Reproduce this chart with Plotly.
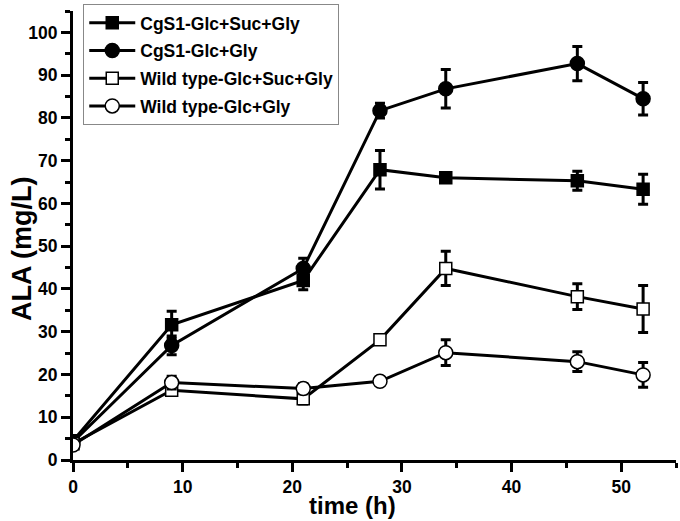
import plotly.graph_objects as go

time_h = [0, 9, 21, 28, 34, 46, 52]

names = ["CgS1-Glc+Suc+Gly", "CgS1-Glc+Gly", "Wild type-Glc+Suc+Gly", "Wild type-Glc+Gly"]

cgs1_suc = [4.5, 31.6, 42.0, 67.9, 66.0, 65.3, 63.3]
cgs1_suc_err = [0.8, 3.2, 2.2, 4.5, 1.0, 2.2, 3.5]

cgs1_gly = [4.2, 26.8, 44.8, 81.7, 86.8, 92.7, 84.5]
cgs1_gly_err = [0.8, 2.2, 2.4, 1.7, 4.5, 4.0, 3.8]

wt_suc = [3.8, 16.3, 14.3, 28.1, 44.8, 38.2, 35.3]
wt_suc_err = [0.6, 1.0, 1.2, 1.0, 4.0, 3.0, 5.5]

wt_gly = [3.5, 18.1, 16.7, 18.4, 25.1, 23.0, 19.9]
wt_gly_err = [0.6, 1.5, 1.2, 1.0, 3.0, 2.3, 2.9]

x_title = "time (h)"
y_title = "ALA (mg/L)"

series = [cgs1_suc, cgs1_gly, wt_suc, wt_gly]
errors = [cgs1_suc_err, cgs1_gly_err, wt_suc_err, wt_gly_err]
symbols = ["square", "circle", "square", "circle"]
fills = ["black", "black", "white", "white"]
sizes = [12, 14, 12, 14]

fig = go.Figure()
for nm, ys, er, sym, fc, sz in zip(names, series, errors, symbols, fills, sizes):
    fig.add_trace(go.Scatter(
        x=time_h, y=ys, name=nm, mode="lines+markers", legendgroup=nm,
        line=dict(color="black", width=3),
        marker=dict(symbol=sym, size=sz, color=fc,
                    line=dict(color="black", width=1.5)),
        error_y=dict(type="data", array=er, visible=True, color="black",
                     thickness=3, width=5),
    ))

font_fam = "Liberation Sans, Arial, sans-serif"
fig.update_layout(
    width=680, height=521,
    margin=dict(l=73, r=4, t=9, b=61),
    paper_bgcolor="white", plot_bgcolor="white",
    font=dict(family=font_fam, color="black", size=17, weight="bold"),
    showlegend=True,
    legend=dict(x=0.017, y=1.016, xanchor="left", yanchor="top",
                bordercolor="#888888", borderwidth=1, bgcolor="white",
                font=dict(size=17.5, family=font_fam, weight="bold"),
                tracegroupgap=2, itemwidth=46),
    xaxis=dict(range=[0, 55], tickvals=[0, 10, 20, 30, 40, 50], automargin=False,
               showgrid=False, zeroline=False, showline=True, linecolor="black",
               linewidth=3, ticks="outside", ticklen=9, tickwidth=3, tickcolor="black",
               minor=dict(tickvals=[5, 15, 25, 35, 45, 55], ticks="outside",
                          ticklen=5, tickwidth=3, tickcolor="black"),
               tickfont=dict(size=17.5, family=font_fam, weight="bold")),
    yaxis=dict(range=[0, 105], tickvals=list(range(0, 101, 10)), automargin=False,
               showgrid=False, zeroline=False, showline=True, linecolor="black",
               linewidth=3, ticks="outside", ticklen=9, tickwidth=3, tickcolor="black",
               minor=dict(tickvals=list(range(5, 106, 10)), ticks="outside",
                          ticklen=5, tickwidth=3, tickcolor="black"),
               tickfont=dict(size=17.5, family=font_fam, weight="bold")),
    annotations=[
        dict(text=y_title, xref="paper", yref="paper",
             x=(22 - 73) / 603, y=(460 - 248) / 451,
             xanchor="center", yanchor="middle", textangle=-90,
             showarrow=False,
             font=dict(size=27, family=font_fam, weight="bold")),
        dict(text=x_title, xref="paper", yref="paper",
             x=(352 - 73) / 603, y=(460 - 521) / 451,
             xanchor="center", yanchor="bottom",
             showarrow=False,
             font=dict(size=24, family=font_fam, weight="bold")),
    ],
)

fig.write_html("out.html", config={"displayModeBar": False},
               post_script="document.body.style.margin='0';")
